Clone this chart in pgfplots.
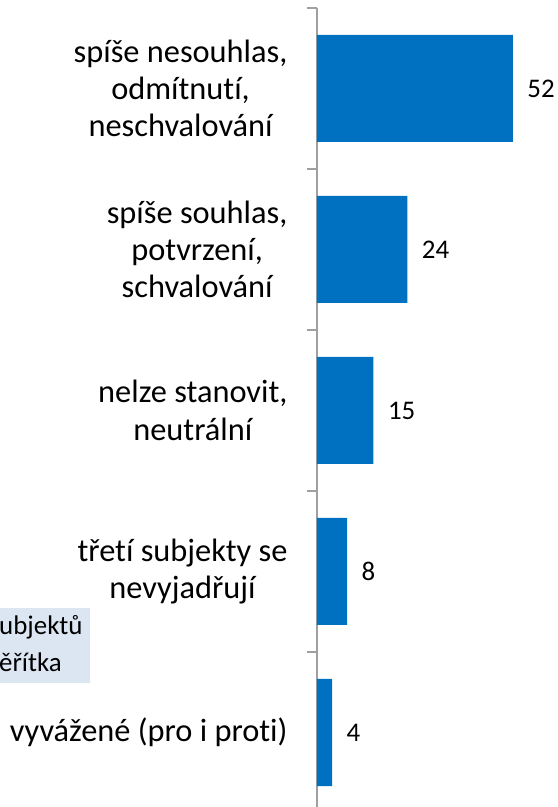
\documentclass[border=0pt]{standalone}
\usepackage{fontspec}
\setmainfont{Carlito}[Ligatures=NoCommon]
\usepackage{pgfplots}
\pgfplotsset{compat=1.18}
\definecolor{barblue}{HTML}{0070C0}
\definecolor{axisgray}{HTML}{A0A0A0}
\definecolor{boxblue}{HTML}{DCE6F2}
\begin{document}
\begin{tikzpicture}
\begin{axis}[
  at={(0,0)}, anchor=south west,
  scale only axis,
  width=226bp, height=805bp,
  xmin=0, xmax=60,
  ymin=0.5, ymax=5.5,
  hide x axis,
  axis y line*=left,
  y axis line style={draw=axisgray, line width=1.8bp},
  ytick={1,2,3,4,5},
  yticklabels={{vyvážené (pro i proti)},{třetí subjekty se\\nevyjadřují},{nelze stanovit,\\neutrální},{spíše souhlas,\\potvrzení,\\schvalování},{spíše nesouhlas,\\odmítnutí,\\neschvalování}},
  major tick length=0pt,
  minor ytick={0.5,1.5,2.5,3.5,4.5,5.5},
  minor tick length=10bp,
  tick align=outside,
  minor tick style={draw=axisgray, line width=1.5bp},
  yticklabel style={align=center, font=\fontsize{32.5}{37.5}\selectfont, text=black, xshift=-26bp},
  xbar, bar width=107bp, bar shift=0pt,
  /pgf/number format/assume math mode=true,
  nodes near coords,
  nodes near coords style={anchor=west, xshift=11bp, font=\fontsize{27}{30}\selectfont, text=black},
  clip=false,
]
\addplot[fill=barblue, draw=none] coordinates {(52,5) (24,4) (15,3) (8,2) (4,1)};
\end{axis}
\fill[boxblue] (-330bp,130bp) rectangle (-227bp,205bp);
\node[anchor=base west, inner sep=0pt, font=\fontsize{27}{30}\selectfont] at (-318bp,178bp) {ubjektů};
\node[anchor=base west, inner sep=0pt, font=\fontsize{27}{30}\selectfont] at (-318bp,141bp) {ěřítka};
\pgfresetboundingbox
\useasboundingbox (-317bp,6bp) rectangle (241bp,813bp);
\end{tikzpicture}
\end{document}
